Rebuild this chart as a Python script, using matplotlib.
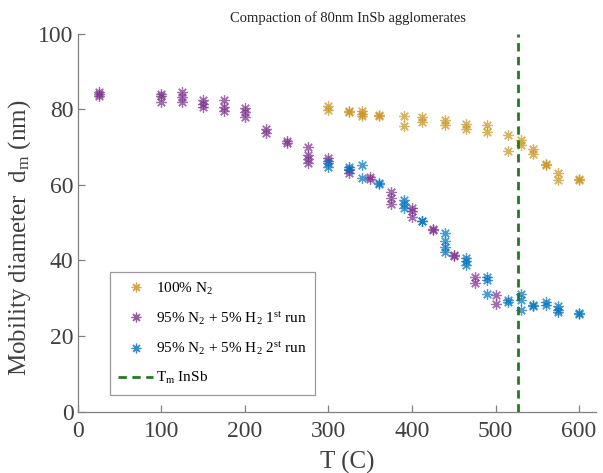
import matplotlib
matplotlib.use("Agg")
import matplotlib.pyplot as plt
from matplotlib.lines import Line2D

plt.rcParams['font.family'] = ['Liberation Serif', 'DejaVu Serif']
plt.rcParams['mathtext.fontset'] = 'custom'
plt.rcParams['mathtext.rm'] = 'Liberation Serif'
plt.rcParams['mathtext.it'] = 'Liberation Serif:italic'

# 100% N2
n2_T = [300, 300, 325, 325, 340, 340, 340, 360, 360, 390, 390, 412, 412, 440, 440,
        465, 465, 490, 490, 515, 515, 530, 530, 545, 545, 560, 560, 575, 575, 600, 600]
n2_d = [80.9, 79.9, 79.6, 79.3, 79.6, 78.7, 78.3, 78.5, 78.1, 78.3, 75.6, 77.8, 76.7, 77.2, 75.8,
        76.1, 74.7, 75.8, 74.0, 73.1, 68.8, 71.9, 70.5, 69.4, 68.1, 65.4, 65.2, 63.0, 61.3, 61.4, 61.2]

# 95% N2 + 5% H2, 1st run
r1_T = [25, 25, 25, 100, 100, 100, 125, 125, 125, 150, 150, 150, 175, 175, 175,
        200, 200, 200, 225, 225, 250, 250, 275, 275, 275, 275, 300, 300, 325, 325,
        350, 350, 375, 375, 375, 400, 400, 400, 425, 425, 450, 450, 475, 475, 500, 500]
r1_d = [84.6, 84.0, 83.6, 84.0, 83.6, 82.0, 84.5, 83.2, 82.0, 82.3, 81.4, 80.5, 82.5, 80.5, 79.6,
        80.2, 79.2, 77.8, 74.7, 73.8, 71.6, 71.0, 70.1, 67.8, 66.8, 65.7, 67.2, 66.3, 63.9, 63.2,
        62.1, 61.4, 58.1, 56.6, 55.0, 53.9, 53.0, 51.5, 48.3, 48.0, 41.5, 41.1, 35.7, 34.1, 30.9, 28.4]

# 95% N2 + 5% H2, 2nd run
r2_T = [300, 300, 325, 325, 340, 340, 360, 360, 390, 390, 390, 412, 412, 440, 440, 440, 440,
        465, 465, 465, 490, 490, 490, 515, 515, 530, 530, 530, 545, 545, 560, 560,
        575, 575, 575, 600, 600]
r2_d = [65.7, 64.8, 64.8, 64.1, 65.2, 61.9, 60.5, 60.1, 56.0, 55.0, 53.8, 50.5, 50.3, 47.3, 45.0, 43.5, 42.2,
        40.6, 39.7, 38.8, 35.7, 34.7, 31.1, 29.5, 29.0, 31.1, 29.5, 26.9, 28.2, 27.8, 29.1, 28.2,
        27.9, 26.9, 26.3, 26.1, 25.8]

Tm_InSb = 527

labels = ["100% N$_\\mathregular{2}$",
          "95% N$_\\mathregular{2}$ + 5% H$_\\mathregular{2}$ 1$^\\mathregular{st}$ run",
          "95% N$_\\mathregular{2}$ + 5% H$_\\mathregular{2}$ 2$^\\mathregular{st}$ run",
          "T$_\\mathregular{m}$ InSb"]
colors = ['#C8931E', '#7E2F8E', '#0072BD']

fig = plt.figure(figsize=(6.03, 4.73), dpi=100)
ax = fig.add_axes([0.129, 0.130, 0.859, 0.799])

ast = (8, 2, 0)
for T, d, c in [(n2_T, n2_d, colors[0]), (r1_T, r1_d, colors[1]), (r2_T, r2_d, colors[2])]:
    ax.plot(T, d, linestyle='none', marker=ast, markersize=7.5, markeredgewidth=0.9,
            color=c, alpha=0.7)

ax.axvline(Tm_InSb, color='#237A23', linestyle=(0, (3, 2)), linewidth=2.0)

ax.set_xlim(0, 620)
ax.set_ylim(0, 100)
ax.set_xticks([0, 100, 200, 300, 400, 500, 600])
ax.set_yticks([0, 20, 40, 60, 80, 100])

for s in ['top', 'right']:
    ax.spines[s].set_visible(False)
for s in ['left', 'bottom']:
    ax.spines[s].set_color('#808080')
    ax.spines[s].set_linewidth(0.9)
ax.tick_params(direction='in', length=5, width=0.9, color='#808080',
               labelsize=17, labelcolor='#404040', pad=3)
ax.tick_params(axis='x', pad=7)

ax.set_xlabel('T (C)', fontsize=18, color='#404040')
ax.xaxis.set_label_coords(0.521, -0.105)
ax.set_ylabel('Mobility diameter  d$_\\mathregular{m}$ (nm)', fontsize=18, color='#404040')
ax.yaxis.set_label_coords(-0.087, 0.459)
ax.set_title('Compaction of 80nm InSb agglomerates', fontsize=10.5, color='#222222',
             pad=8, x=0.521)

handles = [Line2D([], [], linestyle='none', marker=ast, markersize=7, markeredgewidth=0.9,
                  color=c, alpha=0.8) for c in colors]
handles.append(Line2D([], [], color='#237A23', linestyle=(0, (3, 2)), linewidth=2.0))
leg = ax.legend(handles, labels, loc='upper left', bbox_to_anchor=(0.062, 0.369),
                fontsize=11, frameon=True, fancybox=False, framealpha=1,
                edgecolor='#999999', labelspacing=0.85, handlelength=2.3,
                handletextpad=0.15, borderpad=0.55, borderaxespad=0)
leg.get_frame().set_linewidth(0.9)

fig.savefig('out.png', dpi=100)
